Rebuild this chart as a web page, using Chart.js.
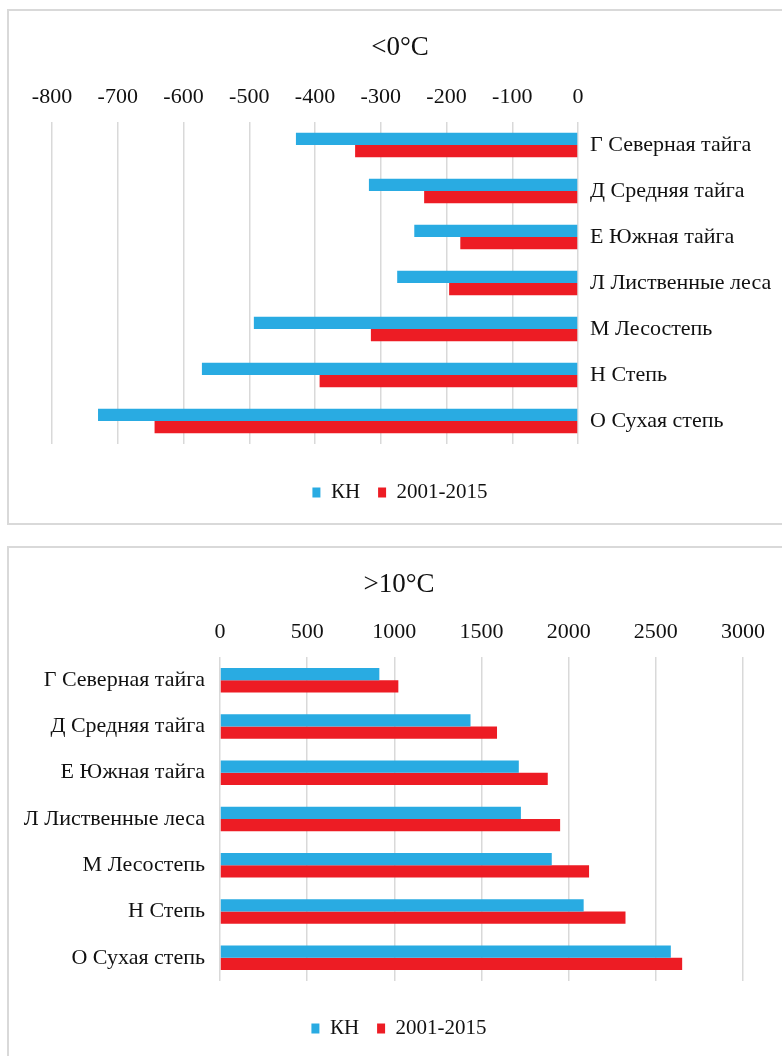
<!DOCTYPE html>
<html lang="ru">
<head>
<meta charset="utf-8">
<title>Суммы температур по природным зонам</title>
<script src="https://cdn.jsdelivr.net/npm/chart.js@4/dist/chart.umd.min.js"></script>
<style>
  html, body { margin: 0; padding: 0; background: #ffffff; }
  body { position: relative; width: 782px; height: 1056px; overflow: hidden; }
  .frame { position: absolute; left: 7px; width: 800px; border: 2px solid #d9d9d9; box-sizing: content-box; }
  #frameCold { top: 9px; height: 512px; }
  #frameWarm { top: 546px; height: 600px; }
  .holder { position: absolute; left: 0; }
  #holderCold { top: 0; }
  #holderWarm { top: 547px; }
  canvas { display: block; }
</style>
</head>
<body>
<div class="frame" id="frameCold"></div>
<div class="frame" id="frameWarm"></div>
<div class="holder" id="holderCold"><canvas id="cold" width="800" height="513"></canvas></div>
<div class="holder" id="holderWarm"><canvas id="warm" width="798" height="502"></canvas></div>
<script>
// Natural zones (rows of both charts)
const zones = ['Г Северная тайга', 'Д Средняя тайга', 'Е Южная тайга', 'Л Лиственные леса', 'М Лесостепь', 'Н Степь', 'О Сухая степь'];
const seriesNames = ['КН', '2001-2015'];

// Sum of temperatures below 0 °C
const coldKN = [-429, -318, -249, -275, -493, -572, -730];
const cold2001 = [-339, -234, -179, -196, -315, -393, -644];
const coldTicks = [-800, -700, -600, -500, -400, -300, -200, -100, 0];

// Sum of temperatures above 10 °C
const warmKN = [914, 1437, 1714, 1726, 1903, 2086, 2586];
const warm2001 = [1023, 1589, 1880, 1951, 2117, 2326, 2651];
const warmTicks = [0, 500, 1000, 1500, 2000, 2500, 3000];

const BLUE = '#29abe2';
const RED = '#ed1c24';
const TEXT = '#111111';
const GRID = '#d9d9d9';

Chart.defaults.font.family = "'Liberation Serif', 'Times New Roman', serif";
Chart.defaults.color = TEXT;

function makeChart(canvasId, opts) {
  const spacerSide = opts.labelSide === 'right' ? 'left' : 'right';
  return new Chart(document.getElementById(canvasId), {
    type: 'bar',
    data: {
      labels: zones,
      datasets: [
        { label: seriesNames[0], data: opts.first, backgroundColor: BLUE, borderWidth: 0 },
        { label: seriesNames[1], data: opts.second, backgroundColor: RED, borderWidth: 0 }
      ]
    },
    options: {
      indexAxis: 'y',
      responsive: false,
      animation: false,
      events: [],
      layout: { padding: 0 },
      datasets: { bar: { categoryPercentage: 0.53, barPercentage: 1 } },
      scales: {
        x: {
          position: 'top',
          min: opts.ticks[0],
          max: opts.ticks[opts.ticks.length - 1],
          afterBuildTicks: s => { s.ticks = opts.ticks.map(v => ({ value: v })); },
          afterFit: s => { s.height = opts.axisHeight; },
          grid: { color: GRID, lineWidth: 1.5, drawTicks: false },
          border: { display: false },
          ticks: {
            padding: 12,
            font: { size: 22 },
            color: TEXT,
            callback: v => String(v)
          }
        },
        y: {
          position: opts.labelSide,
          afterFit: s => { s.width = opts.labelWidth; },
          grid: { display: false, drawTicks: false },
          border: { display: false },
          ticks: { padding: opts.labelPad, font: { size: 22 }, color: TEXT }
        },
        // empty margin on the side opposite the zone names
        spacer: {
          type: 'linear',
          position: spacerSide,
          afterFit: s => { s.width = opts.spacerWidth; },
          grid: { display: false, drawTicks: false },
          border: { display: false },
          ticks: { display: false }
        }
      },
      plugins: {
        tooltip: { enabled: false },
        title: {
          display: true,
          text: opts.title,
          color: TEXT,
          font: { size: 27, weight: 'normal' },
          padding: { top: opts.titleTop, bottom: 0 }
        },
        legend: {
          position: 'bottom',
          align: 'center',
          title: { display: true, text: '', font: { size: 1 }, padding: { top: opts.legendGap, bottom: 0 } },
          labels: {
            boxWidth: 8,
            boxHeight: 10,
            padding: 18,
            color: TEXT,
            font: { size: 21 }
          }
        }
      }
    }
  });
}

// Below 0 °C: axis on top, zone names on the right
makeChart('cold', {
  first: coldKN,
  second: cold2001,
  ticks: coldTicks,
  title: '<0°C',
  titleTop: 32,
  axisHeight: 57.6,
  labelSide: 'right',
  labelWidth: 222,
  labelPad: 12,
  spacerWidth: 52,
  legendGap: 18.8
});

// Above 10 °C: axis on top, zone names on the left
makeChart('warm', {
  first: warmKN,
  second: warm2001,
  ticks: warmTicks,
  title: '>10°C',
  titleTop: 22,
  axisHeight: 55.6,
  labelSide: 'left',
  labelWidth: 220,
  labelPad: 15,
  spacerWidth: 55,
  legendGap: 17.8
});
</script>
</body>
</html>
